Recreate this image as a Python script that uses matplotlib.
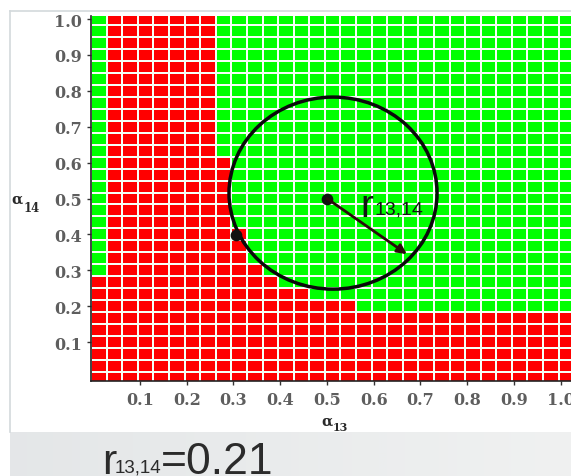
import numpy as np
import matplotlib
matplotlib.use("Agg")
import matplotlib.pyplot as plt
from matplotlib.colors import ListedColormap
from matplotlib.patches import Ellipse
from matplotlib.lines import Line2D

# ---------------- data ----------------
# alpha13 grid columns (left edges, step 1/30) and alpha14 rows (centres, step 1/30)
n_cols = 32
n_rows = 31
# lowest alpha14 row index that is green, for each alpha13 column (99 = never green)
green_from_row = [9, 99, 99, 99, 99, 99, 99, 99, 19, 13, 10, 9, 8, 8, 7, 7, 7,
                  6, 6, 6, 6, 6, 6, 6, 6, 6, 6, 6, 6, 6, 6, 6]
tick_values = [0.1, 0.2, 0.3, 0.4, 0.5, 0.6, 0.7, 0.8, 0.9, 1.0]
tick_labels = ["0.1", "0.2", "0.3", "0.4", "0.5", "0.6", "0.7", "0.8", "0.9", "1.0"]
circle_center = (0.513, 0.515)
circle_size = (0.445, 0.535)
point_a13 = [0.5, 0.305]
point_a14 = [0.5, 0.398]
arrow_start = (0.5, 0.5)
arrow_end = (0.671, 0.345)
radius_value = 0.21

# ---------------- figure ----------------
W, H = 571, 477
fig = plt.figure(figsize=(W / 100, H / 100), dpi=100)
fig.patch.set_facecolor("white")

def fx(px):
    return px / W

def fy(py):
    return 1 - py / H

# bottom grey band with gradient
band = fig.add_axes([fx(10), 0, 1 - fx(10), fy(433)])
grad = np.linspace(0, 1, 256).reshape(1, -1)
band.imshow(grad, aspect="auto", cmap=ListedColormap(
    [(0.895 + 0.045 * t, 0.905 + 0.04 * t, 0.91 + 0.035 * t) for t in np.linspace(0, 1, 64)]),
    extent=[0, 1, 0, 1])
band.set_axis_off()

# thin frame lines
fig.add_artist(Line2D([fx(10), 1], [fy(12), fy(12)], color="#d3d9dc", lw=1.2))
fig.add_artist(Line2D([fx(10), fx(10)], [fy(12), fy(433)], color="#d3d9dc", lw=1.2))

# main axes
x0, x1 = -0.0045, 1.04
y0, y1 = -0.0084, 1.0084
left_px, right_px = 91.1, 91.1 + (x1 - x0) * 467.5
top_px, bot_px = 17, 382
ax = fig.add_axes([fx(left_px), fy(bot_px), (right_px - left_px) / W, (bot_px - top_px) / H])

xe = np.arange(n_cols + 1) / 30 - 0.0045
ye = np.arange(n_rows + 1) / 30 - 1 / 60
Z = np.zeros((n_rows, n_cols))
for c in range(n_cols):
    for r in range(n_rows):
        Z[r, c] = 1 if r >= green_from_row[c] else 0
ax.pcolormesh(xe, ye, Z, cmap=ListedColormap(["#ff0000", "#00ff00"]), vmin=0, vmax=1,
              edgecolors="#f6fff6", linewidth=1.2)

ax.set_xlim(x0, x1)
ax.set_ylim(y0, y1)

ax.add_patch(Ellipse(circle_center, circle_size[0], circle_size[1], fill=False,
                     lw=2.5, ec="#0a0a0a", zorder=5))
ax.scatter(point_a13, point_a14, s=55, color="#111111", zorder=6)
ax.annotate("", xy=arrow_end, xytext=arrow_start,
            arrowprops=dict(arrowstyle="-|>", lw=2.0, color="#2a0a0a",
                            mutation_scale=14, shrinkA=0, shrinkB=0), zorder=6)

sans = ["Liberation Sans", "DejaVu Sans"]
ax.text((360 - 93.2) / 467.5, (379 - 217) / 359, "r", fontsize=28, family=sans,
        color="#141414", va="baseline", ha="left", zorder=7)
ax.text((374 - 93.2) / 467.5, (379 - 215) / 359, "13,14", fontsize=14, family=sans,
        color="#141414", va="baseline", ha="left", zorder=7)

for s in ["top", "right"]:
    ax.spines[s].set_visible(False)
for s in ["left", "bottom"]:
    ax.spines[s].set_color("#222222")
    ax.spines[s].set_linewidth(1.2)

ax.set_xticks(tick_values)
ax.set_xticklabels(tick_labels)
ax.set_yticks(tick_values)
ax.set_yticklabels(tick_labels)
ax.tick_params(axis="both", direction="out", length=3, width=1, color="#333333",
               labelcolor="#5e5e5e")
ax.tick_params(axis="x", pad=4.3)
ax.tick_params(axis="y", pad=3.6)
for lab in ax.get_xticklabels() + ax.get_yticklabels():
    lab.set_family("DejaVu Serif")
    lab.set_fontweight("bold")
    lab.set_fontsize(11.5)

# axis labels (alpha with subscripts)
serif = "DejaVu Serif"
fig.text(fx(321), fy(426), "α", fontsize=10.5, family=serif, weight="bold",
         color="#2a2a2a", va="baseline")
fig.text(fx(333), fy(431), "13", fontsize=8, family=serif, weight="bold",
         color="#2a2a2a", va="baseline")
fig.text(fx(11), fy(204), "α", fontsize=10.5, family=serif, weight="bold",
         color="#2a2a2a", va="baseline")
fig.text(fx(24), fy(212), "14", fontsize=8.5, family=serif, weight="bold",
         color="#2a2a2a", va="baseline")

# bottom caption
fig.text(fx(102), fy(474), "r", fontsize=31, family=sans, color="#2b2b2b", va="baseline")
fig.text(fx(115), fy(473), "13,14", fontsize=13.5, family=sans, color="#2b2b2b", va="baseline")
fig.text(fx(161), fy(474), "=" + f"{radius_value:.2f}", fontsize=32, family=sans,
         color="#2b2b2b", va="baseline")

fig.savefig("out.png", dpi=100)
